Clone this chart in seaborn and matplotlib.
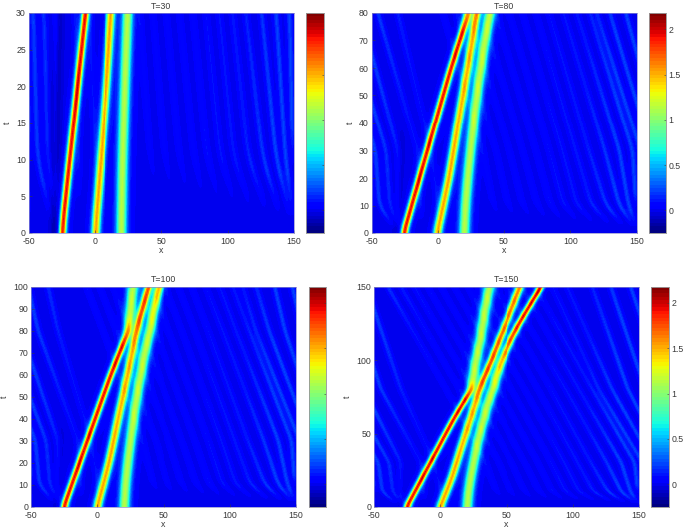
import numpy as np
import matplotlib
matplotlib.use("Agg")
import matplotlib.pyplot as plt
import seaborn as sns

# All four panels are windows on one run, so they share the tracks below.
# Every number.
panel_T = [30, 80, 100, 150]
panel_yticks = [
    [0, 5, 10, 15, 20, 25, 30],
    [0, 10, 20, 30, 40, 50, 60, 70, 80],
    [0, 10, 20, 30, 40, 50, 60, 70, 80, 90, 100],
    [0, 50, 100, 150],
]
panel_cbar_labels = [False, True, False, True]
panel_dark = [1.0, 0.5, 0.4, 0.3]
xticks = [-50, 0, 50, 100, 150]
cbar_ticks = [0, 0.5, 1, 1.5, 2]

# ridge centre and height along t
track_t = [0, 10, 20, 30, 40, 50, 60, 70, 75, 80, 85, 90, 100, 114, 125, 135, 150]
track_a_x = [-25.5, -19.6, -13.7, -7.8, -1.9, 4, 10, 16.5, 19.8, 23, 24, 24.8, 26.7, 30, 31.8, 33.5, 36.8]
track_b_x = [-0.3, 4.2, 8.5, 12, 15.4, 19, 22.5, 26, 27.5, 29.5, 31.5, 33.8, 38.5, 44.5, 49.5, 54, 60.5]
track_c_x = [20, 21, 22.7, 24.8, 27, 29.5, 32.5, 35.5, 37.5, 39.5, 41, 42.5, 46.5, 53.5, 60, 66.5, 76.5]
track_a_h = [1.95, 1.95, 1.95, 1.95, 1.95, 1.95, 1.95, 1.95, 1.9, 1.5, 1.25, 1.15, 1.15, 1.15, 1.15, 1.15, 1.15]
track_b_h = [1.55, 1.55, 1.55, 1.55, 1.5, 1.5, 1.5, 1.5, 1.55, 1.6, 1.7, 1.75, 1.75, 1.7, 1.65, 1.65, 1.65]
track_c_h = [1.15, 1.15, 1.15, 1.15, 1.15, 1.15, 1.15, 1.15, 1.15, 1.2, 1.25, 1.3, 1.5, 1.75, 1.9, 1.95, 2.0]

# cross-section of a ridge, as a share of its height, at a distance in x
ridge_dist = [0, 1, 2, 3, 4, 5, 7, 10]
ridge_share = [1.0, 0.9, 0.58, 0.28, 0.12, 0.05, 0.01, 0.0]

# faint streaks: onset (t, x), then x at t = 10, 30, 80, 150 (wraps at the x limits)
streak_t0 = [1, 1, 1, 4, 5, 6.5, 6, 5.5, 5, 4.5, 4, 3.5, 3, 2.5, 2, 2, 9]
streak_x0 = [-32, -29, -28, -12, 0, 46, 58, 70, 82, 94, 106, 118, 130, 140, 148, 150, 150]
streak_x10 = [-44, -36, -31, -13, 0, 42, 53, 64, 75, 85, 95, 105, 116, 127, 137, 144, 149.5]
streak_x30 = [-47, -39, -30, -15, -5, 34, 44, 54, 64, 74, 84, 94, 104, 114, 126, 137, 147]
streak_x80 = [-80, -70, -58, -45, -30, 4, 14, 24, 34, 44, 54, 64, 74, 84, 95, 105, 115]
streak_x150 = [-115, -104, -85, -71, -56, -40, -30, -20, -10, 0, 10, 20, 30, 40, 50, 62, 72]
streak_dist = [0, 1, 2, 3.5, 5]
streak_share = [1.0, 0.8, 0.4, 0.1, 0.0]
level_x = [-50, -20, 30, 70, 110, 135, 150]
level_h = [0.22, 0.1, 0.07, 0.08, 0.12, 0.22, 0.22]

# dark trough left of the first ridge
dark_t = [0, 10, 20, 30, 45]
dark_x = [-30, -31, -30, -28, -26]
dark_h = [-0.17, -0.17, -0.15, -0.09, 0.0]
dark_dist = [0, 2, 4, 7]
dark_share = [1.0, 0.8, 0.35, 0.0]

# axes boxes in pixels: left, right, top, bottom, colorbar left, colorbar right
W, H = 685, 528
boxes = [
    (28.7, 294, 13, 233, 306, 323.5),
    (371.5, 636.5, 13, 233, 649, 666),
    (31, 296, 286.5, 507, 308.5, 326),
    (374, 639, 286.5, 507, 651, 668.5),
]
text_color = "#3a3a3a"
edge_color = "#8a8ad0"
fine_t = np.arange(0, 150.5, 0.5)


def eased(knot_t, knot_v):
    # knots joined and rounded so the ridges carry no corners
    v = np.interp(fine_t, knot_t, knot_v)
    padded = np.concatenate([np.full(6, v[0]), v, np.full(6, v[-1])])
    return np.convolve(padded, np.ones(13) / 13, mode="valid")


def build_field(n, x, t):
    field = np.zeros((len(t), len(x)))
    for xs, hs in [(track_a_x, track_a_h), (track_b_x, track_b_h), (track_c_x, track_c_h)]:
        centre = np.interp(t, fine_t, eased(track_t, xs))
        height = np.interp(t, fine_t, eased(track_t, hs))
        for i in range(len(t)):
            d = np.abs(x - centre[i]) * (height[i] / 1.95) ** 0.8
            field[i] += height[i] * np.interp(d, ridge_dist, ridge_share)

    shade = np.interp(x, level_x, level_h)
    for k in range(len(streak_t0)):
        knot_t = [streak_t0[k], 10, 30, 80, 150]
        knot_x = [streak_x0[k], streak_x10[k], streak_x30[k], streak_x80[k], streak_x150[k]]
        centre = np.interp(t, fine_t, eased(knot_t, knot_x))
        for i in np.where(t >= streak_t0[k])[0]:
            d = np.abs((x - centre[i] + 100) % 200 - 100)
            fade = min((t[i] - streak_t0[k]) / 6, 1)
            field[i] += fade * shade * np.interp(d, streak_dist, streak_share)

    centre = np.interp(t, fine_t, eased(dark_t, dark_x))
    height = np.interp(t, fine_t, eased(dark_t, dark_h))
    for i in range(len(t)):
        field[i] += panel_dark[n] * height[i] * np.interp(np.abs(x - centre[i]), dark_dist, dark_share)
    return field


fig = plt.figure(figsize=(W / 100, H / 100), dpi=100)
plt.rcParams["font.family"] = ["Liberation Sans", "DejaVu Sans"]
jet = plt.get_cmap("jet", 64)

for n in range(4):
    left, right, top, bottom, cleft, cright = boxes[n]
    T = panel_T[n]
    ax = fig.add_axes([left / W, 1 - bottom / H, (right - left) / W, (bottom - top) / H])
    cax = fig.add_axes([cleft / W, 1 - bottom / H, (cright - cleft) / W, (bottom - top) / H])

    x = np.linspace(-50, 150, 266)
    t = np.linspace(0, T, 221)
    sns.heatmap(build_field(n, x, t), ax=ax, cbar_ax=cax, cmap=jet, vmin=-0.25, vmax=2.18,
                xticklabels=False, yticklabels=False, rasterized=True)
    ax.invert_yaxis()

    ax.set_xticks([(v + 50) / 200 * len(x) for v in xticks])
    ax.set_xticklabels(xticks)
    ax.set_yticks([v / T * len(t) for v in panel_yticks[n]])
    ax.set_yticklabels(panel_yticks[n], rotation=0)
    ax.tick_params(direction="in", length=2, width=0.4, labelsize=6.3, colors=text_color, pad=2)
    ax.tick_params(axis="x", pad=3)
    ax.set_xlabel("x", fontsize=6.3, color=text_color, labelpad=0)
    ax.set_ylabel("t", fontsize=6.3, color=text_color, labelpad=3)
    ax.set_title("T=%d" % T, fontsize=6.3, color=text_color, pad=3)
    for spine in ax.spines.values():
        spine.set_visible(True)
        spine.set_linewidth(0.5)
        spine.set_color(edge_color)

    cax.yaxis.set_ticks_position("right")
    cax.set_yticks(cbar_ticks)
    if panel_cbar_labels[n]:
        cax.set_yticklabels(["0", "0.5", "1", "1.5", "2"])
    else:
        cax.set_yticklabels([])
    cax.tick_params(direction="in", length=1.5, width=0.4, labelsize=6.3, colors=text_color, pad=2)
    for spine in cax.spines.values():
        spine.set_visible(True)
        spine.set_linewidth(0.5)
        spine.set_color("#999999")

fig.savefig("out.png", dpi=100)
